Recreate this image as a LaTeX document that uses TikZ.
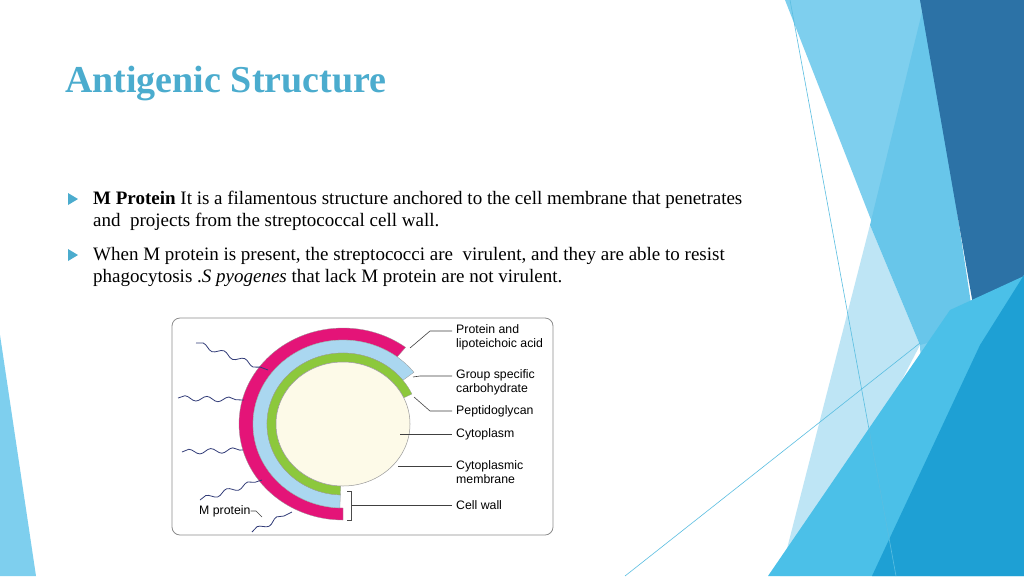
\documentclass[tikz,border=0pt]{standalone}
\usepackage{fontspec}
\setmainfont{Liberation Serif}
\newfontfamily\lab{Liberation Sans}
\usetikzlibrary{decorations.pathmorphing}
\definecolor{ttl}{RGB}{75,172,206}
\definecolor{navy}{RGB}{50,60,120}
\definecolor{mag}{RGB}{228,20,120}
\definecolor{lblue}{RGB}{170,215,240}
\definecolor{grn}{RGB}{140,200,60}
\definecolor{cyto}{RGB}{253,250,232}
\tikzset{x=1pt,y=-1pt,
 body/.style={anchor=base west,font=\fontsize{19}{22}\selectfont,inner sep=0},
 lbl/.style={anchor=west,font=\lab\fontsize{12.3}{14}\selectfont,align=left,inner sep=0},
 lead/.style={draw=black!75,line width=0.6pt},
 wave/.style={draw=navy,line width=0.8pt,decorate,decoration={snake,amplitude=2.5pt,segment length=22pt}},
 band/.style={draw=black!40,line width=0.3pt},
 bul/.style={fill=ttl}}
\begin{document}
\begin{tikzpicture}
\useasboundingbox (0,0) rectangle (1024,576);
\fill[white] (0,0) rectangle (1024,576);
% decorative background
\fill[color={rgb,255:red,126;green,207;blue,238}] (785,0)--(925,0)--(990,576)--(930,576)--(920,345)--cycle;
\fill[color={rgb,255:red,190;green,229;blue,245}] (870,225)--(920,345)--(800,576)--(780,576)--cycle;
\fill[color={rgb,255:red,104;green,198;blue,234}] (870,225)--(925,0)--(975,330)--(920,345)--cycle;
\fill[color={rgb,255:red,44;green,114;blue,166}] (920,0)--(1024,0)--(1024,275)--(980,345)--cycle;
\fill[color={rgb,255:red,75;green,192;blue,232}] (950,310)--(1024,276)--(1024,576)--(768,576)--cycle;
\fill[color={rgb,255:red,30;green,160;blue,212}] (980,345)--(1024,275)--(1024,576)--(872,576)--cycle;
\fill[color={rgb,255:red,126;green,207;blue,238}] (0,335)--(36,576)--(0,576)--cycle;
\coordinate (l1a) at (790,0); \coordinate (l1b) at (896,576);
\coordinate (l2a) at (920,343); \coordinate (l2b) at (625,576);
\draw[color={rgb,255:red,90;green,190;blue,225},line width=0.6pt] (l1a)--(l1b);
\draw[color={rgb,255:red,90;green,190;blue,225},line width=0.6pt] (l2a)--(l2b);
% title and text
\node[anchor=base west,text=ttl,font=\bfseries\fontsize{38}{42}\selectfont,inner sep=0] (title) at (65,92) {Antigenic Structure};
\fill[bul] (68,193)--(78,199)--(68,205)--cycle;
\fill[bul] (68,249)--(78,255)--(68,261)--cycle;
\node[body] (t1) at (93,204) {\textbf{M Protein} It is a filamentous structure anchored to the cell membrane that penetrates};
\node[body] (t2) at (93,226) {and\ \ projects from the streptococcal cell wall.};
\node[body] (t3) at (93,260) {When M protein is present, the streptococci are\ \ virulent, and they are able to resist};
\node[body] (t4) at (93,282) {phagocytosis .\textit{S pyogenes} that lack M protein are not virulent.};
% figure
\draw[black!45,line width=0.8pt,rounded corners=8pt] (172,318) rectangle (553,535);
\coordinate (c) at (343,424);
\fill[mag,band] ([shift={(-53:104 and 96)}]c) arc[start angle=-53,end angle=-270,x radius=104,y radius=96] -- ([shift={(90:90 and 84)}]c) arc[start angle=-270,end angle=-53,x radius=90,y radius=84] -- cycle;
\fill[lblue,band] ([shift={(-38:90 and 84)}]c) arc[start angle=-38,end angle=-268,x radius=90,y radius=84] -- ([shift={(92:76 and 71)}]c) arc[start angle=-268,end angle=-38,x radius=76,y radius=71] -- cycle;
\fill[grn,band] ([shift={(-25:76 and 71)}]c) arc[start angle=-25,end angle=-268,x radius=76,y radius=71] -- ([shift={(92:67 and 62)}]c) arc[start angle=-268,end angle=-25,x radius=67,y radius=62] -- cycle;
\fill[cyto,draw=black!40,line width=0.5pt] (c) ellipse[x radius=67,y radius=62];
\draw[black!70,line width=0.6pt] (347,491)--(351,491)--(351,520)--(347,520);
% wavy M proteins
\foreach \a/\b in {{(196,343)}/{(268,370)},{(178,398)}/{(244,400)},{(182,452)}/{(243,450)},{(200,500)}/{(262,480)},{(252,532)}/{(292,512)}}
 \draw[wave] \a -- \b;
% labels
\node[lbl] (p1) at (456,337) {Protein and\\lipoteichoic acid};
\node[lbl] (p2) at (456,382) {Group specific\\carbohydrate};
\node[lbl] (p3) at (456,411) {Peptidoglycan};
\node[lbl] (p4) at (456,434) {Cytoplasm};
\node[lbl] (p5) at (456,472) {Cytoplasmic\\membrane};
\node[lbl] (p6) at (456,505) {Cell wall};
\node[lbl] (p7) at (199,511) {M protein};
\coordinate (s1) at (410,348); \coordinate (s2) at (413,377); \coordinate (s3) at (414,397);
\coordinate (s4) at (400,434); \coordinate (s5) at (398,466); \coordinate (s6) at (352,505);
\draw[lead] (s1)--(430,331)--(452,331);
\draw[lead] (s2)--(420,376)--(452,376);
\draw[lead] (s3)--(430,411)--(452,411);
\draw[lead] (s4)--(452,434);
\draw[lead] (s5)--(452,466);
\draw[lead] (s6)--(452,505);
\draw[lead] (p7.east)--(256,511)--(262,517);
\end{tikzpicture}
\end{document}
